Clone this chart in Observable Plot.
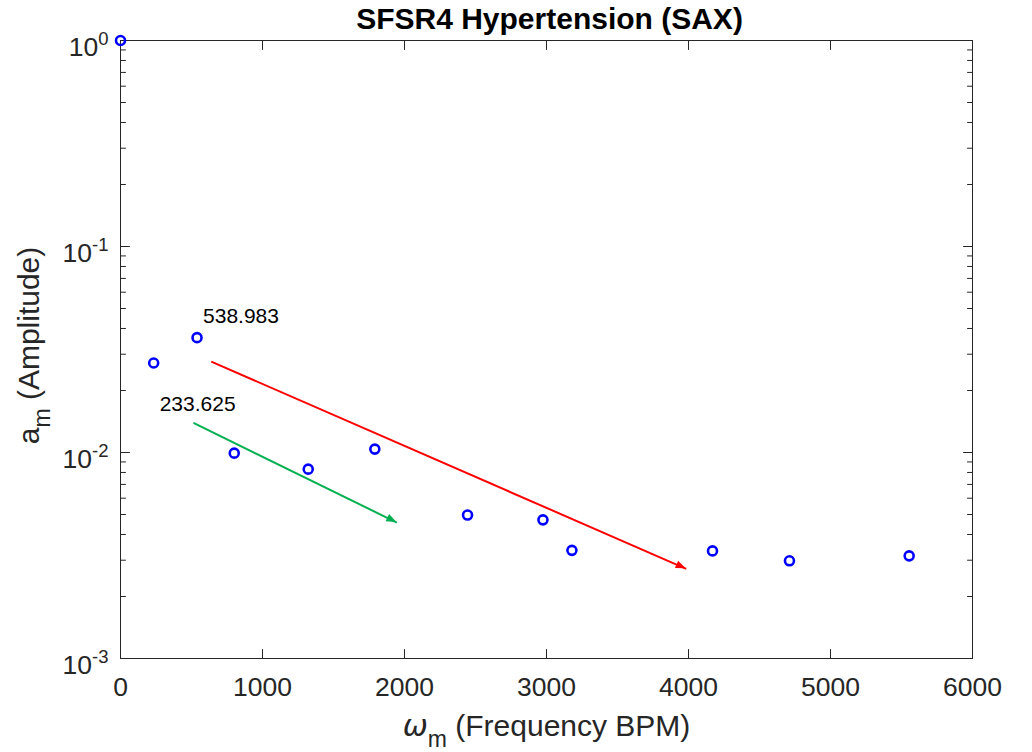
<!DOCTYPE html>
<html>
<head>
<meta charset="utf-8">
<script src="https://cdn.jsdelivr.net/npm/d3@7"></script>
<script src="https://cdn.jsdelivr.net/npm/@observablehq/plot@0.6"></script>
<style>
  html, body { margin: 0; padding: 0; background: #fff; }
  #chart { width: 1032px; height: 752px; }
</style>
</head>
<body>
<div id="chart"></div>
<script>
// ---- data ----
const freq = [0, 233.625, 538.983, 801, 1322, 1791, 2444, 2975, 3179, 4169, 4711, 5554];
const amp  = [1, 0.0272, 0.0361, 0.00993, 0.0083, 0.01039, 0.00497, 0.00471, 0.00335, 0.00333, 0.00298, 0.00315];

const peakLabels = ["233.625", "538.983"];
const peakIndex  = [1, 2];

const arrowNames = ["red", "green"];
const arrowX1 = [639, 514];
const arrowY1 = [0.02762, 0.01392];
const arrowX2 = [3984, 1946];
const arrowY2 = [0.002725, 0.004571];

const xTicks = [0, 1000, 2000, 3000, 4000, 5000, 6000];
const xTickLabels = ["0", "1000", "2000", "3000", "4000", "5000", "6000"];
const yExponents = [0, -1, -2, -3];
const yMinorMult = [2, 3, 4, 5, 6, 7, 8, 9];
const yMinorExp = [-3, -2, -1];

const titleText = "SFSR4 Hypertension (SAX)";
const xLabelText = "ω_m (Frequency BPM)";
const yLabelText = "a_m (Amplitude)";

// ---- derived tables ----
const points = freq.map((f, i) => ({f, a: amp[i]}));
const labels = peakLabels.map((t, i) => ({t, f: freq[peakIndex[i]], a: amp[peakIndex[i]]}));
const arrows = arrowNames.map((c, i) => ({c, x1: arrowX1[i], y1: arrowY1[i], x2: arrowX2[i], y2: arrowY2[i]}));
const yMajor = yExponents.map(e => Math.pow(10, e));
const yMinor = yMinorExp.flatMap(e => yMinorMult.map(m => m * Math.pow(10, e)));
const xTickData = xTicks.map((v, i) => ({v, t: xTickLabels[i]}));

const colorMap = {red: "#ff0000", green: "#00b050"};
const axisColor = "#262626";
const textColor = "#262626";
const tickShape = {draw(context, l) { context.moveTo(0, 0); context.lineTo(0, -l); }};

function ticks(data, accessor, anchor, rotate, length) {
  const o = {frameAnchor: anchor, rotate, length, anchor: "start", shape: tickShape, stroke: axisColor, strokeWidth: 1};
  if (anchor === "left" || anchor === "right") o.y = accessor; else o.x = accessor;
  return Plot.vector(data, o);
}

// custom filled arrowheads using the plot's scales
function arrowHeads(data) {
  return (index, scales, values, dimensions, context) => {
    const g = d3.create("svg:g");
    for (const d of data) {
      const x1 = scales.x(d.x1), y1 = scales.y(d.y1);
      const x2 = scales.x(d.x2), y2 = scales.y(d.y2);
      const dx = x2 - x1, dy = y2 - y1, L = Math.hypot(dx, dy);
      const ux = dx / L, uy = dy / L;
      const hl = 10, hw = 4;
      const bx = x2 - ux * hl, by = y2 - uy * hl;
      const p = [[x2, y2], [bx - uy * hw, by + ux * hw], [bx + uy * hw, by - ux * hw]];
      g.append("path").attr("d", "M" + p.map(q => q.join(",")).join("L") + "Z").attr("fill", colorMap[d.c]);
    }
    return g.node();
  };
}

const chart = Plot.plot({
  width: 1032,
  height: 752,
  marginLeft: 120,
  marginRight: 60,
  marginTop: 40,
  marginBottom: 94,
  style: {fontFamily: "'Liberation Sans', Arial, sans-serif", background: "#fff"},
  x: {domain: [0, 6000], axis: null},
  y: {type: "log", domain: [1e-3, 1], axis: null},
  marks: [
    Plot.frame({stroke: axisColor, strokeWidth: 1}),
    // ticks (inward, on all four sides)
    ticks(xTicks, d => d, "bottom", 0, 9),
    ticks(xTicks, d => d, "top", 180, 9),
    ticks(yMajor, d => d, "left", 90, 9),
    ticks(yMajor, d => d, "right", -90, 9),
    ticks(yMinor, d => d, "left", 90, 5),
    ticks(yMinor, d => d, "right", -90, 5),
    // tick labels
    Plot.text(xTickData, {x: "v", text: "t", frameAnchor: "bottom", lineAnchor: "middle", textAnchor: "middle", dy: 28.7, fontSize: 26.5, fill: textColor}),
    Plot.text(yMajor, {y: d => d, text: d => "10^" + Math.round(Math.log10(d)), frameAnchor: "left", lineAnchor: "middle", textAnchor: "end", dx: -12, dy: 7.2, fontSize: 26.5, fill: textColor, className: "ytl"}),
    // arrows
    Plot.link(arrows, {x1: "x1", y1: "y1", x2: "x2", y2: "y2", stroke: d => colorMap[d.c], strokeWidth: 2}),
    arrowHeads(arrows),
    // data points
    Plot.dot(points, {x: "f", y: "a", r: 4.5, stroke: "#0000ff", strokeWidth: 2.6, fill: "none"}),
    // peak labels
    Plot.text(labels.slice(0, 1), {x: "f", y: "a", text: "t", textAnchor: "start", lineAnchor: "middle", dx: 6, dy: 41.3, fontSize: 21, fill: "#000"}),
    Plot.text(labels.slice(1, 2), {x: "f", y: "a", text: "t", textAnchor: "start", lineAnchor: "middle", dx: 6, dy: -21.4, fontSize: 21, fill: "#000"}),
    // title and axis labels
    Plot.text([titleText], {frameAnchor: "top", lineAnchor: "middle", textAnchor: "middle", dx: 3, dy: -21.3, fontSize: 30, fontWeight: "bold", fill: "#000"}),
    Plot.text([xLabelText], {frameAnchor: "bottom", lineAnchor: "middle", textAnchor: "middle", dy: 67.4, fontSize: 30, fill: textColor, className: "xlab"}),
    Plot.text([yLabelText], {frameAnchor: "left", lineAnchor: "middle", textAnchor: "middle", rotate: -90, dx: -91.6, dy: -4, fontSize: 30, fill: textColor, className: "ylab"})
  ]
});

document.getElementById("chart").appendChild(chart);

// ---- post-process rich text (superscripts / subscripts) ----
const svg = d3.select(chart);
svg.selectAll("g.ytl text").each(function() {
  const t = d3.select(this);
  const [base, exp] = t.text().split("^");
  t.text(null);
  t.append("tspan").text(base);
  t.append("tspan").attr("font-size", 18.5).attr("dy", -11).text(exp);
});
function subscriptify(sel, subSize, shift) {
  sel.each(function() {
    const t = d3.select(this);
    const s = t.text();
    const [pre, rest] = s.split("_");
    const sub = rest[0], post = rest.slice(1);
    t.text(null);
    const p = t.append("tspan").text(pre);
    if (pre === "ω") p.attr("font-style", "italic").attr("font-family", "'DejaVu Sans', 'Liberation Sans', sans-serif");
    t.append("tspan").attr("font-size", subSize).attr("dy", shift).text(sub);
    t.append("tspan").attr("dy", -shift).text(post);
  });
}
subscriptify(svg.selectAll("g.xlab text"), 23, 11);
subscriptify(svg.selectAll("g.ylab text"), 23, 11);
</script>
</body>
</html>
